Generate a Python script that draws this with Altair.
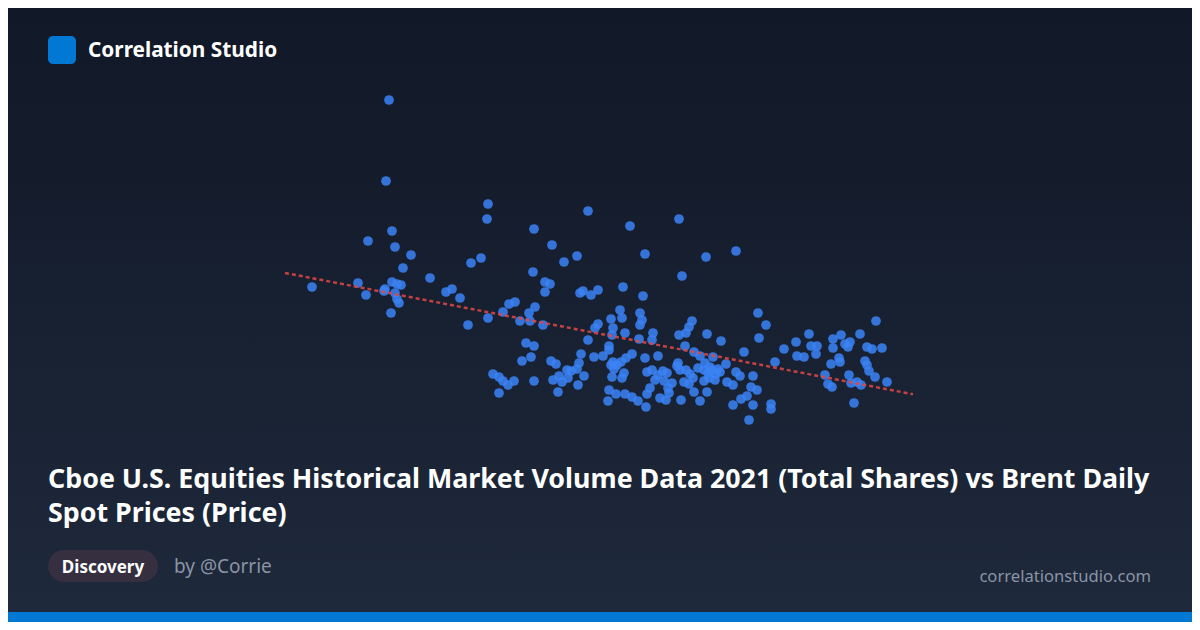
import altair as alt
import pandas as pd
import numpy as np

# Daily total shares (billions) and Brent spot price (USD)
volume = [10.04, 10.01, 11.03, 11.02, 12.03, 10.07, 9.83, 10.10, 11.49, 11.67,
          10.26, 11.92, 11.79, 10.18, 10.86, 10.96, 11.48, 10.45, 9.27, 9.73,
          9.81, 10.07, 10.12, 10.16, 10.00, 9.99, 10.10, 10.12, 10.14, 10.06,
          10.61, 10.67, 10.75, 10.83, 11.03, 11.18, 11.24, 11.30, 11.44, 11.50,
          11.35, 11.45, 11.58, 11.60, 11.65, 11.60, 11.95, 11.98, 12.06, 12.13,
          12.10, 12.13, 12.03, 11.41, 11.49, 11.46, 11.37, 11.66, 11.71, 11.08,
          11.14, 11.18, 11.23, 11.29, 11.14, 11.49, 11.68, 11.74, 11.73, 11.77,
          11.82, 11.86, 11.92, 11.94, 11.96, 11.99, 11.93, 12.09, 11.83, 12.45,
          12.94, 12.60, 13.21, 13.51, 12.97, 12.38, 12.58, 12.35, 12.55, 12.57,
          12.55, 12.26, 12.37, 12.28, 12.27, 12.40, 12.68, 12.54, 12.67, 12.24,
          12.24, 12.47, 12.18, 12.60, 12.73, 12.28, 12.26, 12.36, 12.39, 12.29,
          12.27, 12.37, 12.62, 12.67, 12.70, 12.65, 12.62, 12.24, 12.31, 12.40,
          12.47, 12.53, 12.61, 12.23, 12.78, 12.82, 12.79, 12.87, 12.83, 12.75,
          12.81, 12.84, 12.94, 13.01, 13.04, 13.07, 13.22, 13.36, 13.00, 12.93,
          12.92, 13.01, 13.09, 13.15, 13.20, 13.28, 13.25, 13.23, 13.30, 13.19,
          13.05, 12.99, 13.04, 13.09, 13.22, 12.96, 13.15, 13.33, 13.41, 13.42,
          13.48, 13.51, 13.55, 13.59, 13.68, 13.66, 13.72, 13.62, 13.56, 13.48,
          13.68, 13.86, 13.86, 13.64, 13.73, 13.81, 13.74, 13.90, 13.99, 14.11,
          14.12, 14.19, 14.24, 14.26, 14.32, 14.31, 14.40, 14.43, 14.47, 14.48,
          14.48, 14.56, 14.46, 14.54, 14.55, 14.60, 14.63, 14.65, 14.64, 14.66,
          14.72, 14.76, 14.69, 14.75, 14.82, 14.87, 14.97, 14.91, 14.80, 14.82,
          14.84, 14.90, 15.02, 13.08, 13.19, 12.95, 13.27, 13.31, 13.13, 13.35,
          13.24, 12.73, 12.32, 12.41]
price = [86.0, 77.9, 75.6, 74.1, 74.9, 72.9, 71.9, 71.3, 73.1, 71.5,
         70.5, 70.4, 69.8, 69.2, 69.7, 70.2, 68.8, 68.2, 67.3, 67.7,
         66.5, 67.8, 67.6, 67.5, 67.1, 66.9, 66.7, 66.1, 65.7, 64.7,
         66.8, 67.1, 66.2, 63.5, 64.2, 64.8, 65.6, 65.8, 64.7, 65.3,
         63.9, 63.9, 63.5, 67.8, 67.6, 66.8, 66.7, 66.9, 66.5, 67.0,
         63.2, 63.6, 62.0, 61.7, 61.4, 60.3, 59.9, 59.9, 59.6, 58.6,
         58.3, 57.9, 57.5, 57.9, 56.7, 57.9, 58.0, 58.4, 56.8, 57.8,
         59.0, 58.9, 59.1, 59.7, 60.6, 58.4, 57.5, 60.3, 58.2, 73.4,
         74.1, 70.6, 70.3, 70.9, 68.4, 67.3, 66.4, 65.0, 64.7, 64.0,
         63.5, 64.1, 64.2, 63.2, 62.5, 62.7, 62.7, 62.1, 62.0, 61.4,
         61.0, 60.6, 60.4, 60.2, 60.4, 59.8, 59.5, 59.8, 58.7, 59.1,
         58.3, 58.2, 58.8, 59.0, 58.0, 57.2, 56.6, 57.0, 56.6, 56.6,
         56.3, 55.9, 55.3, 55.9, 58.9, 58.7, 57.9, 57.7, 57.2, 56.2,
         56.0, 56.7, 62.5, 62.7, 63.3, 63.9, 62.6, 61.9, 61.4, 59.7,
         59.4, 59.0, 60.8, 60.4, 59.7, 60.3, 59.3, 58.7, 58.0, 57.9,
         58.6, 57.8, 57.6, 56.8, 56.8, 56.0, 55.9, 59.1, 59.6, 57.8,
         57.5, 58.8, 58.4, 60.8, 58.4, 57.3, 57.0, 56.4, 56.1, 55.5,
         55.5, 55.6, 55.1, 54.0, 64.7, 63.5, 62.2, 59.8, 61.1, 61.8,
         60.4, 60.3, 62.6, 61.4, 61.4, 60.6, 58.5, 57.6, 57.3, 62.1,
         61.2, 62.5, 59.6, 60.2, 59.8, 61.6, 61.3, 61.8, 58.5, 57.7,
         57.8, 57.5, 55.7, 62.6, 61.3, 61.1, 61.2, 63.9, 59.9, 59.5,
         58.9, 58.3, 57.8, 58.2, 59.0, 59.0, 59.0, 58.6, 59.2, 58.8,
         58.2, 58.5, 59.5, 60.2]

title_line1 = "Cboe U.S. Equities Historical Market Volume Data 2021 (Total Shares) vs Brent Daily"
title_line2 = "Spot Prices (Price)"
brand = "Correlation Studio"
badge = "Discovery"
author = "by @Corrie"
site = "correlationstudio.com"

W, H = 1184, 614
FONT = "Segoe UI, Noto Sans, sans-serif"

df = pd.DataFrame({"volume": volume, "price": price})
slope, intercept = np.polyfit(df["volume"], df["price"], 1)
x0 = min(volume) - 0.27
x1 = max(volume) + 0.26
fit = pd.DataFrame({"volume": [x0, x1],
                    "price": [intercept + slope * x0, intercept + slope * x1]})

xs = alt.Scale(domain=[6.23, 18.07], nice=False, zero=False)
ys = alt.Scale(domain=[33.8, 95.2], nice=False, zero=False)

one = pd.DataFrame({"k": [0]})

bg = alt.Chart(one).mark_rect(
    color=alt.LinearGradient(
        gradient="linear",
        stops=[alt.GradientStop(color="#111827", offset=0),
               alt.GradientStop(color="#1e293b", offset=1)],
        x1=0, x2=0, y1=0, y2=1)
).encode(x=alt.value(0), x2=alt.value(W), y=alt.value(0), y2=alt.value(H))

bar = alt.Chart(one).mark_rect(color="#0078d4").encode(
    x=alt.value(0), x2=alt.value(W), y=alt.value(604), y2=alt.value(H))

logo = alt.Chart(one).mark_rect(color="#0078d4", cornerRadius=5).encode(
    x=alt.value(40), x2=alt.value(68), y=alt.value(28), y2=alt.value(56))

pill = alt.Chart(one).mark_rect(color="#352f3f", cornerRadius=16).encode(
    x=alt.value(40), x2=alt.value(150), y=alt.value(542), y2=alt.value(574))


def txt(text, x, y, size, weight="normal", color="#ffffff", align="left"):
    return alt.Chart(one).mark_text(
        text=text, align=align, baseline="alphabetic", font=FONT,
        fontSize=size, fontWeight=weight, color=color
    ).encode(x=alt.value(x), y=alt.value(y))


texts = [
    txt(brand, 80, 49, 20.8, "bold"),
    txt(title_line1, 40, 480, 26.8, "bold"),
    txt(title_line2, 40, 514, 26.8, "bold"),
    txt(badge, 95, 565, 17, "bold", align="center"),
    txt(author, 166, 565, 19, "normal", "#8a94a6"),
    txt(site, 1143, 574, 16.6, "normal", "#8a94a6", align="right"),
]

points = alt.Chart(df).mark_circle(size=95, color="#3b82f6", opacity=0.85).encode(
    x=alt.X("volume:Q", scale=xs, axis=None),
    y=alt.Y("price:Q", scale=ys, axis=None),
)

line = alt.Chart(fit).mark_line(
    color="#e04848", strokeDash=[4, 3], strokeWidth=2.5, opacity=0.85
).encode(
    x=alt.X("volume:Q", scale=xs, axis=None),
    y=alt.Y("price:Q", scale=ys, axis=None),
)

chart = alt.layer(bg, bar, logo, pill, *texts, points, line).properties(
    width=W, height=H, autosize="none", padding=0, background="#111827"
).configure_view(stroke=None)

chart.save("out.html", embed_options={"renderer": "svg", "actions": False})
